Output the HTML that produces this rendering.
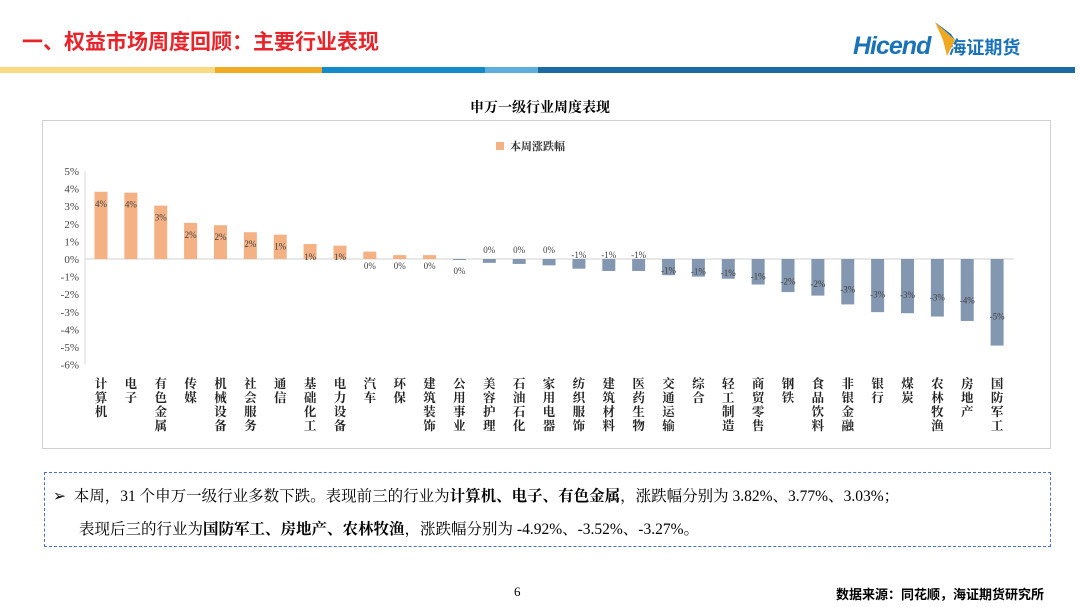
<!DOCTYPE html>
<html><head><meta charset="utf-8"><style>
body{margin:0;width:1080px;height:607px;background:#fff;position:relative;overflow:hidden;font-family:"Liberation Serif","Noto Serif CJK SC",serif}
.abs{position:absolute}
</style></head><body>
<div class="abs" style="left:22px;top:26px;font:bold 21px 'Liberation Sans','Noto Sans CJK SC',sans-serif;color:#e8232a">一、权益市场周度回顾：主要行业表现</div>
<div class="abs" style="left:853px;top:32px;font:bold italic 25px 'Liberation Sans',sans-serif;color:#1a73b8;letter-spacing:-1px">Hicend<span style="font:bold 18px 'Noto Sans CJK SC',sans-serif;font-style:normal;margin-left:18px;letter-spacing:0">海证期货</span></div>
<svg class="abs" style="left:933px;top:20px" width="30" height="40"><polygon points="2,2 22,20 14,36 10,20" fill="#f0a820"/><polygon points="2,2 22,20 18,14" fill="#1a73b8"/></svg>
<div class="abs" style="left:0;top:67px;height:6px;width:1075px;background:linear-gradient(90deg,#f8da85 0 215px,#f1ab22 215px 322px,#158ac8 322px 485px,#5eafdd 485px 538px,#1c6aa3 538px)"></div>
<div class="abs" style="left:0;width:1080px;top:97px;text-align:center;font-size:14px;font-weight:bold;color:#000">申万一级行业周度表现</div>
<div class="abs" style="left:42px;top:120px;width:1007px;height:327px;border:1px solid #d0d0d0"></div>
<svg id="chart" class="abs" style="left:0;top:0" width="1080" height="607"></svg>
<div class="abs" style="left:44px;top:472px;width:1005px;height:73px;border:1.5px dashed #4a72c4;font-size:15.5px;line-height:33px;color:#000">
<div style="padding-left:8px;margin-top:7px">➢&nbsp; 本周，31 个申万一级行业多数下跌。表现前三的行业为<b>计算机、电子、有色金属</b>，涨跌幅分别为 3.82%、3.77%、3.03%；</div>
<div style="padding-left:34px">表现后三的行业为<b>国防军工、房地产、农林牧渔</b>，涨跌幅分别为 -4.92%、-3.52%、-3.27%。</div></div>
<div class="abs" style="left:514px;top:584px;font-size:13px">6</div>
<div class="abs" style="left:836px;top:584px;font:bold 13px 'Liberation Sans','Noto Sans CJK SC',sans-serif">数据来源：同花顺，海证期货研究所</div>
<script>
const categories=["计算机","电子","有色金属","传媒","机械设备","社会服务","通信","基础化工","电力设备","汽车","环保","建筑装饰","公用事业","美容护理","石油石化","家用电器","纺织服饰","建筑材料","医药生物","交通运输","综合","轻工制造","商贸零售","钢铁","食品饮料","非银金融","银行","煤炭","农林牧渔","房地产","国防军工"];
const values=[3.82,3.77,3.03,2.05,1.92,1.52,1.38,0.85,0.76,0.42,0.22,0.22,-0.02,-0.22,-0.28,-0.36,-0.55,-0.68,-0.68,-0.92,-1.0,-1.12,-1.45,-1.88,-2.08,-2.58,-3.02,-3.08,-3.27,-3.52,-4.92];
const valueLabels=["4%","4%","3%","2%","2%","2%","1%","1%","1%","0%","0%","0%","0%","0%","0%","0%","-1%","-1%","-1%","-1%","-1%","-1%","-1%","-2%","-2%","-3%","-3%","-3%","-3%","-4%","-5%"];
const ticks=[5,4,3,2,1,0,-1,-2,-3,-4,-5,-6];
const svg=document.getElementById('chart');const NS='http://www.w3.org/2000/svg';
const y0=259,ppu=17.6,x0=101,step=29.87,bw=13;
const Y=v=>y0-v*ppu, X=i=>x0+i*step;
function mk(t,a,txt){const e=document.createElementNS(NS,t);for(const k in a)e.setAttribute(k,a[k]);if(txt!=null)e.textContent=txt;svg.appendChild(e);return e;}
let ax=mk('line',{x1:85,y1:Y(5),x2:85,y2:Y(-6),stroke:'#d9d9d9'});


ticks.forEach(t=>{const e=mk('text',{x:79,y:Y(t)+4,'text-anchor':'end','font-size':11,fill:'#444'},t+'%');

});
let zl=mk('line',{x1:85,y1:y0,x2:1014,y2:y0,stroke:'#d0d0d0'});


values.forEach((v,i)=>{const x=X(i);const top=Math.min(Y(v),y0),h=Math.abs(Y(v)-y0);
const r=mk('rect',{x:x-bw/2,y:top,width:bw,height:Math.max(h,1),fill:v>=0?'#f4b183':'#8497b0'});


let ly;if(v>=1.3)ly=Y(v)+15;else if(v>=0.5)ly=y0+1;else if(v>=0)ly=y0+10;else if(v>-0.4)ly=y0-6;else if(v>-0.8)ly=y0-1;else ly=Y(v)-h*0.35+4;
if(i===12)ly=y0+15;
const t=mk('text',{x:x,y:ly,'text-anchor':'middle','font-size':9,fill:'#404040'},valueLabels[i]);


const c=mk('text',{x:x,'font-size':12.5,'font-weight':'bold',fill:'#222','font-family':'"Noto Serif CJK SC",serif'});


[...categories[i]].forEach((ch,k)=>{const s=document.createElementNS(NS,'tspan');s.setAttribute('x',x);s.setAttribute('y',388+k*14);s.setAttribute('text-anchor','middle');s.textContent=ch;c.appendChild(s);});
});
let lg=mk('rect',{x:496,y:142,width:8,height:8,fill:'#f4b183'});


let lt=mk('text',{x:510,y:150,'font-size':11,'font-weight':'bold',fill:'#333'},'本周涨跌幅');


</script>
</body></html>
